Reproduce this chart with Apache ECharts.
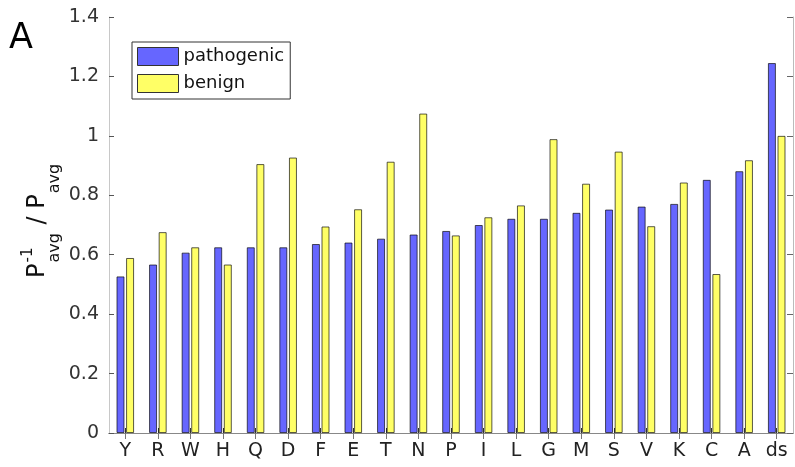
<!DOCTYPE html>
<html>
<head>
<meta charset="utf-8">
<script src="https://cdn.jsdelivr.net/npm/echarts@6/dist/echarts.min.js"></script>
<style>
html,body{margin:0;padding:0;background:#fff;}
#chart{width:795px;height:467px;}
</style>
</head>
<body>
<div id="chart"></div>
<script>
const categories = ['Y','R','W','H','Q','D','F','E','T','N','P','I','L','G','M','S','V','K','C','A','ds'];
const pathogenic = [0.527,0.567,0.607,0.625,0.625,0.625,0.636,0.641,0.654,0.668,0.680,0.700,0.721,0.721,0.741,0.752,0.762,0.771,0.852,0.881,1.245];
const benign = [0.589,0.676,0.625,0.567,0.905,0.927,0.695,0.753,0.913,1.075,0.665,0.726,0.766,0.989,0.839,0.947,0.696,0.843,0.535,0.918,1.0];
const seriesNames = ['pathogenic','benign'];
const yMin = 0, yMax = 1.4, yStep = 0.2;
const panelLabel = 'A';

const FONT = '"DejaVu Sans", sans-serif';
const ctx = document.createElement('canvas').getContext('2d');
function tw(t, s){ ctx.font = s + 'px "DejaVu Sans"'; return ctx.measureText(t).width; }

const bigF = 24, subF = 16, supF = 15;
const xSub = tw('P', bigF) + 1;
const xSlash = xSub + tw('avg', subF) + 1;
const xP2 = xSlash + tw(' / ', bigF);
const xSub2 = xP2 + tw('P', bigF) + 1;
function txt(t, x, y, s){
  return {type:'text', x:x, y:y, style:{text:t, font: s + 'px ' + FONT, fill:'#111', align:'left', verticalAlign:'middle'}};
}

const chart = echarts.init(document.getElementById('chart'), null, {renderer:'canvas'});
const axisCommonY = {
  type:'value', min:yMin, max:yMax, interval:yStep, splitLine:{show:false}
};
chart.setOption({
  animation:false,
  backgroundColor:'#fff',
  grid:{left:109, right:2, top:17, bottom:34, containLabel:false},
  legend:{
    data:seriesNames, orient:'vertical', left:132, top:42,
    padding:[5,6,6,5], itemWidth:41, itemHeight:18, itemGap:8,
    borderColor:'#333', borderWidth:1, backgroundColor:'#fff', borderRadius:0,
    icon:'rect',
    itemStyle:{borderColor:'#333', borderWidth:1},
    textStyle:{fontSize:18, fontFamily:FONT, color:'#111', lineHeight:18}
  },
  xAxis:[
    {type:'category', data:categories, position:'bottom',
     axisLine:{show:true, lineStyle:{color:'#666', width:1}},
     axisTick:{show:true, inside:true, alignWithLabel:true, length:5, lineStyle:{color:'#333'}},
     axisLabel:{fontSize:19, fontFamily:FONT, color:'#222', margin:9}},
    {type:'category', data:categories, position:'top',
     axisLine:{show:true, lineStyle:{color:'#888', width:1}},
     axisTick:{show:true, inside:true, alignWithLabel:true, length:6, lineStyle:{color:'#777'}},
     axisLabel:{show:false}}
  ],
  yAxis:[
    Object.assign({}, axisCommonY, {position:'left',
     axisLine:{show:true, lineStyle:{color:'#c8c8c8', width:1}},
     axisTick:{show:true, inside:true, length:5, lineStyle:{color:'#555'}},
     axisLabel:{fontSize:19, fontFamily:FONT, color:'#333', margin:10}}),
    Object.assign({}, axisCommonY, {position:'right',
     axisLine:{show:true, lineStyle:{color:'#bbb', width:1}},
     axisTick:{show:true, inside:true, length:6, lineStyle:{color:'#666'}},
     axisLabel:{show:false}})
  ],
  series:[
    {name:seriesNames[0], type:'bar', data:pathogenic, xAxisIndex:0, yAxisIndex:0,
     barWidth:8, barGap:'20%',
     itemStyle:{color:'#6666ff', borderColor:'rgba(0,0,0,0.65)', borderWidth:1}},
    {name:seriesNames[1], type:'bar', data:benign, xAxisIndex:0, yAxisIndex:0,
     barWidth:8, barGap:'20%',
     itemStyle:{color:'#ffff66', borderColor:'rgba(0,0,0,0.65)', borderWidth:1}}
  ],
  graphic:[
    {type:'text', left:9, top:21, style:{text:panelLabel, font:'35px ' + FONT, fill:'#000'}},
    {type:'group', x:38, y:278, rotation:Math.PI/2, children:[
      txt('P', 0, 0, bigF),
      txt('-1', xSub, -10, supF),
      txt('avg', xSub, 17, subF),
      txt(' / P', xSlash, 0, bigF),
      txt('avg', xSub2, 17, subF)
    ]}
  ]
});
</script>
</body>
</html>
